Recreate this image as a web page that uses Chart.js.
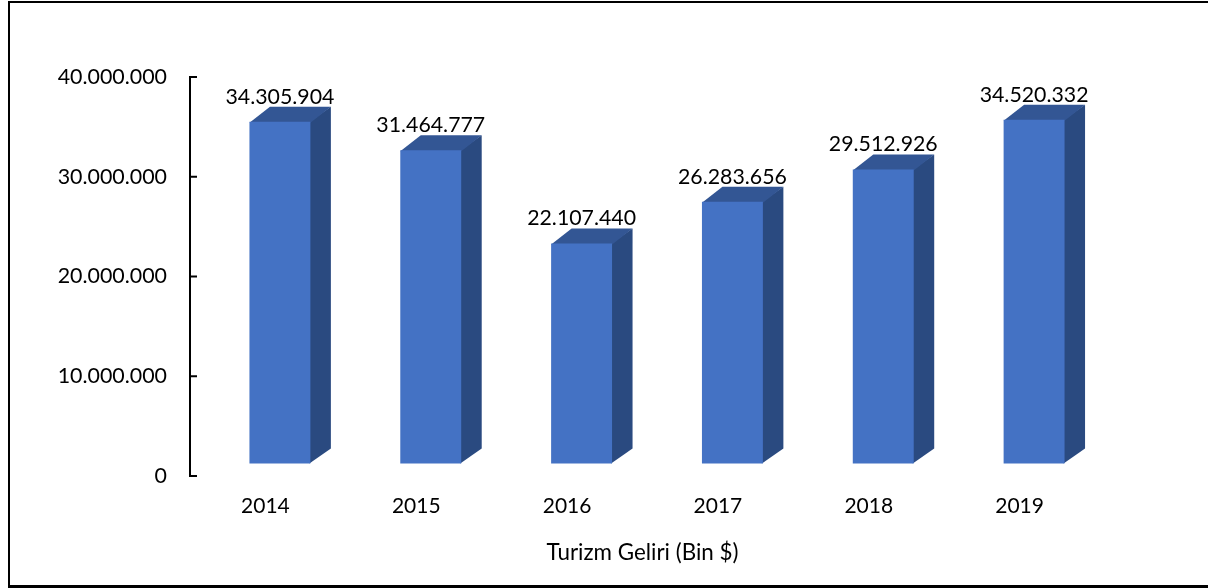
<!DOCTYPE html>
<html><head><meta charset="utf-8">
<style>html,body{margin:0;padding:0;background:#fff}#w{position:relative;width:1208px;height:588px;overflow:hidden}
#f{position:absolute;left:8px;top:1px;width:1210px;height:587px;box-sizing:border-box;border:solid #000;border-width:2px 2px 3px 2px}
canvas{display:block}</style>
<script src="https://cdn.jsdelivr.net/npm/chart.js@4"></script></head>
<body><div id="w"><canvas id="c" width="1208" height="588"></canvas><div id="f"></div></div>
<script>
const categories=['2014','2015','2016','2017','2018','2019'];
const gelir=[34305904,31464777,22107440,26283656,29512926,34520332];
const yTicks=[0,10000000,20000000,30000000,40000000];
const axisTitle='Turizm Geliri (Bin $)';
const FONT='Lato';
const fmt=v=>String(v).replace(/\B(?=(\d{3})+$)/g,'.');
const DX=14.5,DY=-12,DEPTH_X=20.5,DEPTH_Y=-15;
const bar3d={id:'bar3d',
 beforeDatasetsDraw(ch){const x=ch.ctx;x.save();x.translate(DX,DY);
  ch.getDatasetMeta(0).data.forEach(b=>{const p=b.getProps(['x','y','base','width'],true);
   const l=p.x-p.width/2,r=p.x+p.width/2;
   x.fillStyle='#2a4a80';x.beginPath();x.moveTo(r-1,p.y);x.lineTo(r+DEPTH_X,p.y+DEPTH_Y);x.lineTo(r+DEPTH_X,p.base+DEPTH_Y);x.lineTo(r-1,p.base);x.closePath();x.fill();
   x.fillStyle='#335694';x.beginPath();x.moveTo(l,p.y+1);x.lineTo(l+DEPTH_X,p.y+DEPTH_Y);x.lineTo(r+DEPTH_X,p.y+DEPTH_Y);x.lineTo(r,p.y+1);x.closePath();x.fill();
  });},
 afterDatasetsDraw(ch){const x=ch.ctx;x.restore();x.save();
  x.font='21.3px '+FONT;x.fillStyle='#000';x.textAlign='center';x.textBaseline='middle';
  ch.getDatasetMeta(0).data.forEach((b,i)=>{x.fillText(fmt(gelir[i]),b.x+DX,b.y+DY-25);});
  const s=ch.scales.y;x.strokeStyle='#000';x.lineWidth=2;
  s.ticks.forEach(t=>{const y=s.getPixelForValue(t.value);x.beginPath();x.moveTo(s.right-1,y);x.lineTo(s.right+7,y);x.stroke();});
  x.restore();}
};
new Chart(document.getElementById('c'),{type:'bar',
 data:{labels:categories,datasets:[{data:gelir,backgroundColor:'#4472c4',borderWidth:0,barPercentage:0.404,categoryPercentage:1}]},
 plugins:[bar3d],
 options:{responsive:false,animation:false,
  layout:{padding:{left:0,right:113,top:77,bottom:22}},
  plugins:{legend:{display:false},tooltip:{enabled:false}},
  scales:{
   x:{afterFit(a){a.height=90;},grid:{display:false,drawTicks:false},border:{display:false},
      ticks:{color:'#000',font:{family:FONT,size:21},padding:18,maxRotation:0},
      title:{display:true,text:axisTitle,color:'#000',font:{family:FONT,size:22.4},padding:{top:20,bottom:0}}},
   y:{min:0,max:40000000,afterBuildTicks(a){a.ticks=yTicks.map(v=>({value:v}));},
      afterFit(a){a.width=190;},
      grid:{drawOnChartArea:false,drawTicks:false},border:{color:'#000',width:2},
      ticks:{color:'#000',font:{family:FONT,size:21.4},padding:23,callback:v=>fmt(v)}}
  }}});
</script></body></html>
